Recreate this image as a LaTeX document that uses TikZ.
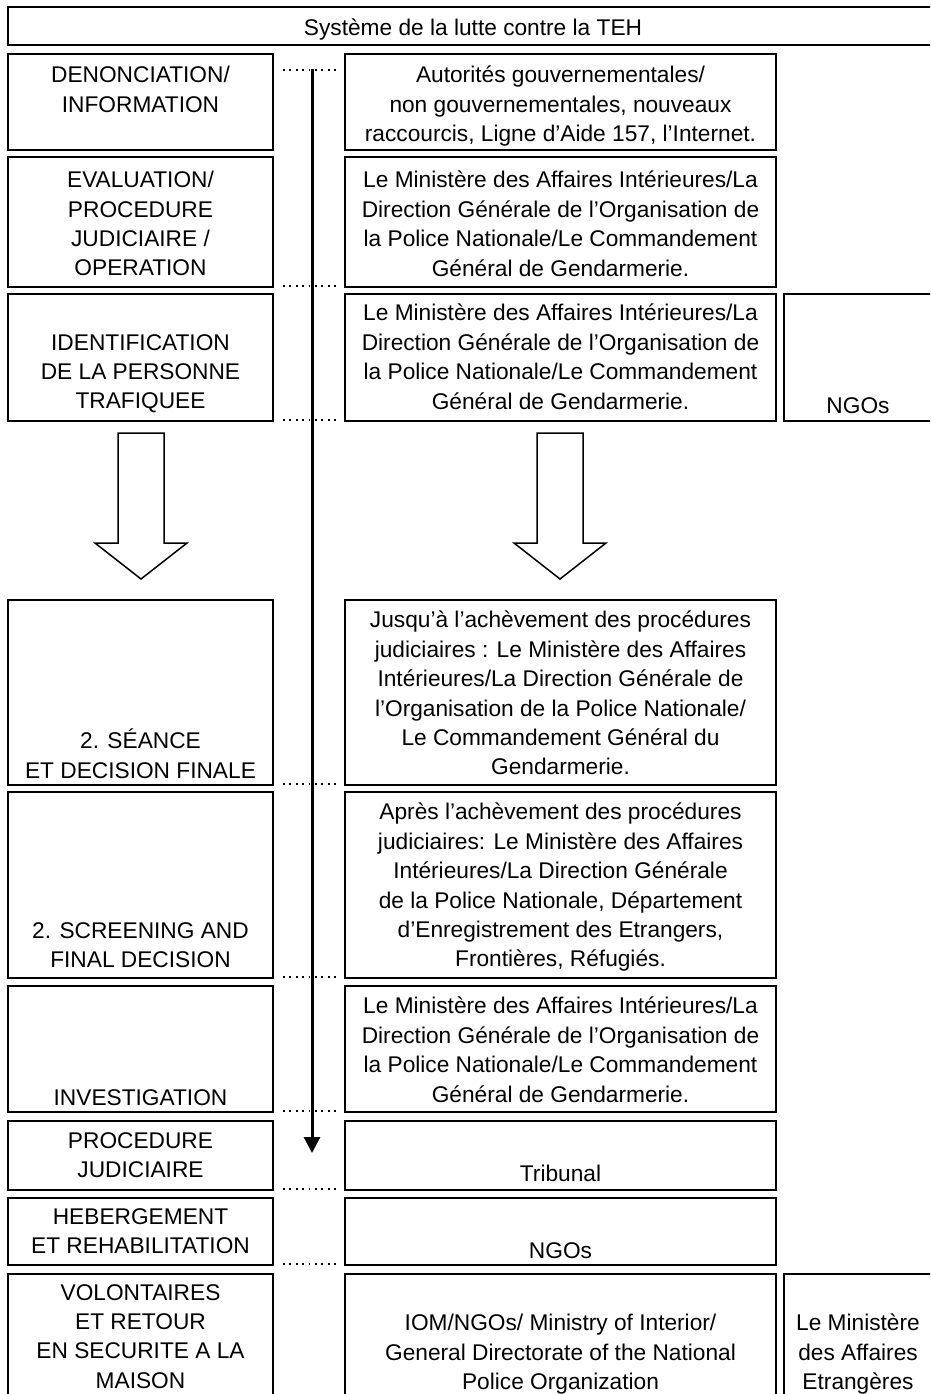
\documentclass[tikz,border=0pt]{standalone}
\usepackage{fontspec}
\setmainfont{Liberation Sans}
\usetikzlibrary{arrows.meta}
\newcommand{\dfs}{\fontsize{22.7}{29.4}\selectfont}
\begin{document}
\begin{tikzpicture}[x=1pt,y=-1pt,
  box/.style={draw=black, line width=1.6pt, inner sep=0pt, outer sep=0pt},
  colL/.style={box, minimum width=265pt},
  colM/.style={box, minimum width=431pt},
  colR/.style={box, minimum width=148pt},
  txt/.style={anchor=north, inner sep=0pt, align=center, font=\dfs, yshift=-3.5pt, execute at begin node=\strut},
  dotline/.style={line width=1.8pt, dash pattern=on 1.8pt off 4.6pt},
  varrow/.style={line width=3pt, -{Triangle[width=16pt,length=16pt]}},
  hollow/.style={draw=black, line width=1.5pt, fill=white, line join=miter}]
\useasboundingbox (0,0) rectangle (930,1394);
\clip (0,0) rectangle (930,1394);
\fill[white] (0,0) rectangle (930,1394);

% title
\node[box, minimum width=930pt, minimum height=38pt] (title) at (473,26) {};
\node[txt, yshift=3pt] (ttitle) at (473,14.5) {Système de la lutte contre la TEH};

% row boxes
\node[colL, minimum height=96pt] (r1l) at (140.5,102) {};
\node[colM, minimum height=96pt] (r1m) at (560.5,102) {};
\node[colL, minimum height=130pt] (r2l) at (140.5,222) {};
\node[colM, minimum height=130pt] (r2m) at (560.5,222) {};
\node[colL, minimum height=127pt] (r3l) at (140.5,357.5) {};
\node[colM, minimum height=127pt] (r3m) at (560.5,357.5) {};
\node[colR, minimum height=127pt] (r3r) at (858,357.5) {};
\node[colL, minimum height=185pt] (r4l) at (140.5,692.5) {};
\node[colM, minimum height=185pt] (r4m) at (560.5,692.5) {};
\node[colL, minimum height=186pt] (r5l) at (140.5,885) {};
\node[colM, minimum height=186pt] (r5m) at (560.5,885) {};
\node[colL, minimum height=126pt] (r6l) at (140.5,1049) {};
\node[colM, minimum height=126pt] (r6m) at (560.5,1049) {};
\node[colL, minimum height=69pt] (r7l) at (140.5,1155.5) {};
\node[colM, minimum height=69pt] (r7m) at (560.5,1155.5) {};
\node[colL, minimum height=67pt] (r8l) at (140.5,1231.5) {};
\node[colM, minimum height=67pt] (r8m) at (560.5,1231.5) {};
\node[colL, minimum height=130pt] (r9l) at (140.5,1339) {};
\node[colM, minimum height=130pt] (r9m) at (560.5,1339) {};
\node[colR, minimum height=130pt] (r9r) at (858,1339) {};

% texts
\node[txt] (t1l) at (140.5,62.5) {DENONCIATION/\\INFORMATION};
\node[txt] (t1m) at (560.5,62.5) {Autorités gouvernementales/\\non gouvernementales, nouveaux\\raccourcis, Ligne d’Aide 157, l’Internet.};
\node[txt] (t2l) at (140.5,167.5) {EVALUATION/\\PROCEDURE\\JUDICIAIRE /\\OPERATION};
\node[txt] (t2m) at (560.5,167.5) {Le Ministère des Affaires Intérieures/La\\Direction Générale de l’Organisation de\\la Police Nationale/Le Commandement\\Général de Gendarmerie.};
\node[txt] (t3l) at (140.5,330.5) {IDENTIFICATION\\DE LA PERSONNE\\TRAFIQUEE};
\node[txt] (t3m) at (560.5,300.5) {Le Ministère des Affaires Intérieures/La\\Direction Générale de l’Organisation de\\la Police Nationale/Le Commandement\\Général de Gendarmerie.};
\node[txt] (t3r) at (858,389.5) {NGOs};
\node[txt] (t4l) at (140.5,725.5) {2. SÉANCE\\ET DECISION FINALE};
\node[txt] (t4m) at (560.5,607.5) {Jusqu’à l’achèvement des procédures\\judiciaires : Le Ministère des Affaires\\Intérieures/La Direction Générale de\\l’Organisation de la Police Nationale/\\Le Commandement Général du\\Gendarmerie.};
\node[txt] (t5l) at (140.5,918.5) {2. SCREENING AND\\FINAL DECISION};
\node[txt] (t5m) at (560.5,799.5) {Après l’achèvement des procédures\\judiciaires: Le Ministère des Affaires\\Intérieures/La Direction Générale\\de la Police Nationale, Département\\d’Enregistrement des Etrangers,\\Frontières, Réfugiés.};
\node[txt] (t6l) at (140.5,1081.5) {INVESTIGATION};
\node[txt] (t6m) at (560.5,993.5) {Le Ministère des Affaires Intérieures/La\\Direction Générale de l’Organisation de\\la Police Nationale/Le Commandement\\Général de Gendarmerie.};
\node[txt] (t7l) at (140.5,1128.5) {PROCEDURE\\JUDICIAIRE};
\node[txt] (t7m) at (560.5,1157.5) {Tribunal};
\node[txt] (t8l) at (140.5,1204.5) {HEBERGEMENT\\ET REHABILITATION};
\node[txt] (t8m) at (560.5,1234.5) {NGOs};
\node[txt] (t9l) at (140.5,1280.5) {VOLONTAIRES\\ET RETOUR\\EN SECURITE A LA\\MAISON};
\node[txt] (t9m) at (560.5,1310.5) {IOM/NGOs/ Ministry of Interior/\\General Directorate of the National\\Police Organization};
\node[txt] (t9r) at (858,1310.5) {Le Ministère\\des Affaires\\Etrangères};

% dotted links between columns
\draw[dotline] ([xshift=10pt,yshift=-16pt]r1l.north east) -- ([xshift=-9pt,yshift=-16pt]r1m.north west);
\foreach \r in {2,...,8}{
  \draw[dotline] ([xshift=10pt,yshift=1pt]r\r l.south east) -- ([xshift=-9pt,yshift=1pt]r\r m.south west);
}

% vertical arrow
\coordinate (vs) at (312,69);
\coordinate (ve) at (312,1153);
\draw[varrow] (vs) -- (ve);

% hollow block arrows
\draw[hollow] (118,433) -- (164,433) -- (164,543) -- (187,543) -- (141,579) -- (95,543) -- (118,543) -- cycle;
\draw[hollow] (537,433) -- (583,433) -- (583,543) -- (606,543) -- (560,579) -- (514,543) -- (537,543) -- cycle;
\end{tikzpicture}
\end{document}
